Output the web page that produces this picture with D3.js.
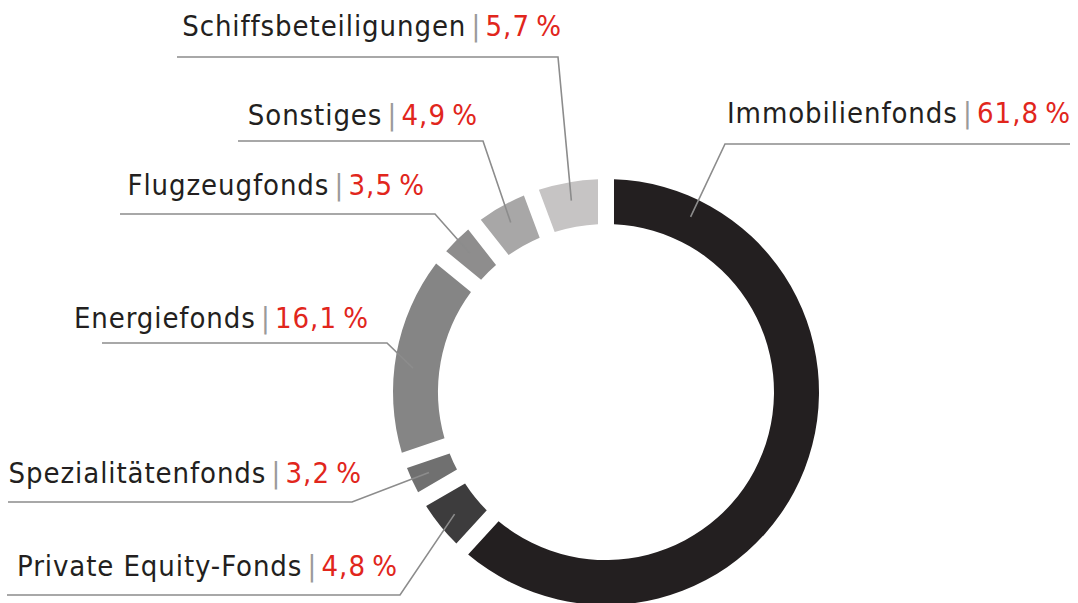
<!DOCTYPE html>
<html>
<head>
<meta charset="utf-8">
<script src="https://cdn.jsdelivr.net/npm/d3@7"></script>
<style>
  body { margin: 0; background: #fff; }
  text { font-family: "Liberation Sans Narrow", "DejaVu Sans Condensed", "Roboto", sans-serif; }
</style>
</head>
<body>
<div id="chart"></div>
<script>
// Data (order: clockwise from 12 o'clock)
const categories = ["Immobilienfonds", "Private Equity-Fonds", "Spezialitätenfonds", "Energiefonds", "Flugzeugfonds", "Sonstiges", "Schiffsbeteiligungen"];
const shares = [61.8, 4.8, 3.2, 16.1, 3.5, 4.9, 5.7];
const colors = ["#231f20", "#3d3c3d", "#707070", "#858585", "#8e8d8d", "#a8a7a7", "#c6c4c4"];

// Label placement: text x (start/end), baseline y, underline y, line x-range, side
const labelLayout = [
    { tx: 727, y: 123, lineY: 144, x0: 725, x1: 1070, side: "right" },
    { tx: 398, y: 576, lineY: 595, x0: 7, x1: 400, side: "left" },
    { tx: 362, y: 483, lineY: 502, x0: 8, x1: 352, side: "left" },
    { tx: 369, y: 328, lineY: 343, x0: 102, x1: 387, side: "left" },
    { tx: 425, y: 195, lineY: 214, x0: 120, x1: 435, side: "left" },
    { tx: 478, y: 125, lineY: 141, x0: 238, x1: 483, side: "left" },
    { tx: 562, y: 36, lineY: 57, x0: 177, x1: 558, side: "left" }
];

const width = 1078, height = 603;
const cx = 606, cy = 392;
const outerR = 213, innerR = 168;
const gap = 16;

const locale = d3.formatLocale({ decimal: ",", thousands: ".", grouping: [3], currency: ["", "€"] });
const fmt = locale.format(".1f");

const svg = d3.select("#chart")
    .append("svg")
    .attr("width", width)
    .attr("height", height)
    .style("background", "#fff");

// slices keep their full share of the circle; the gap is cut out of each slice
const pie = d3.pie()
    .sort(null)
    .value(d => d);

const arc = d3.arc()
    .innerRadius(innerR)
    .outerRadius(outerR)
    .padAngle(gap / 200)
    .padRadius(200);

const arcs = pie(shares);

const g = svg.append("g")
    .attr("transform", `translate(${cx},${cy})`);

g.selectAll("path.slice")
    .data(arcs)
    .join("path")
    .attr("class", "slice")
    .attr("d", arc)
    .attr("fill", (d, i) => colors[i]);

// Leader lines: from inside the slice to the label underline
const anchorR = (innerR + outerR) / 2 + 4;
function anchorPoint(d) {
    const a = Math.min((d.startAngle + d.endAngle) / 2, d.startAngle + 0.45);
    return [cx + anchorR * Math.sin(a), cy - anchorR * Math.cos(a)];
}

const labels = svg.append("g");

arcs.forEach((d, i) => {
    const L = labelLayout[i];
    const p = anchorPoint(d);
    const elbowX = L.side === "left" ? L.x1 : L.x0;
    const farX = L.side === "left" ? L.x0 : L.x1;

    labels.append("path")
        .attr("d", d3.line()([p, [elbowX, L.lineY], [farX, L.lineY]]))
        .attr("fill", "none")
        .attr("stroke", "#8c8c8c")
        .attr("stroke-width", 1.6);

    const t = labels.append("text")
        .attr("y", L.y)
        .attr("font-size", 29)
        .attr("text-anchor", L.side === "left" ? "end" : "start")
        .attr("x", L.tx);

    t.append("tspan").attr("fill", "#231f20").attr("letter-spacing", 0.9).text(categories[i]);
    t.append("tspan").attr("fill", "#9a9a9a").attr("font-weight", 300).text("\u2009|\u2009");
    t.append("tspan").attr("fill", "#e1261c").attr("letter-spacing", 1).text(fmt(d.data) + "\u2009%");
});
</script>
</body>
</html>
